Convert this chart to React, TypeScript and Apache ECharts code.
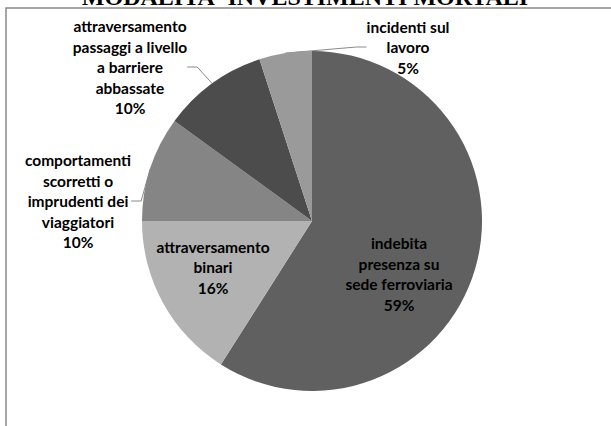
import React, { useEffect, useRef } from "react";
import * as echarts from "echarts";

const categories = [
  "indebita\npresenza su\nsede ferroviaria",
  "attraversamento\nbinari",
  "comportamenti\nscorretti o\nimprudenti dei\nviaggiatori",
  "attraversamento\npassaggi a livello\na barriere\nabbassate",
  "incidenti sul\nlavoro",
];
const values = [59, 16, 10, 10, 5];
const colors = ["#606060", "#b2b2b2", "#858585", "#4c4c4c", "#9a9a9a"];
const titleText = "MODALITA' INVESTIMENTI MORTALI";

// label block centres (layout only)
const labelPos: [number, number][] = [
  [399, 274],
  [213, 267],
  [78, 201],
  [130, 67],
  [408, 47],
];

export default function App() {
  const ref = useRef<HTMLDivElement>(null);
  useEffect(() => {
    if (!ref.current) return;
    const chart = echarts.init(ref.current, null, { renderer: "svg" });
    chart.setOption({
      animation: false,
      backgroundColor: "#ffffff",
      graphic: [
        {
          type: "rect",
          shape: { x: 6, y: 8, width: 640, height: 460 },
          style: { fill: "none", stroke: "#8a8a8a", lineWidth: 1.5 },
          z: 0,
        },
        {
          type: "text",
          x: 305,
          y: 9,
          style: {
            text: titleText,
            font: "bold 24px 'Liberation Serif', 'DejaVu Serif', serif",
            fill: "#000",
            align: "center",
            verticalAlign: "bottom",
          },
          z: 10,
        },
      ],
      series: [
        {
          type: "pie",
          center: [312, 221],
          radius: 170,
          startAngle: 90,
          clockwise: true,
          avoidLabelOverlap: false,
          itemStyle: { borderWidth: 0 },
          label: {
            show: true,
            position: "outside",
            formatter: (p: any) => `${p.name}\n${Math.round(p.percent)}%`,
            fontFamily: "Lato, 'Open Sans', sans-serif",
            fontWeight: "bold",
            fontSize: 15.5,
            lineHeight: 20.5,
            color: "#000",
            align: "center",
          },
          labelLine: {
            show: true,
            lineStyle: { color: "#8a8a8a", width: 1 },
            length: 10,
            length2: 10,
          },
          labelLayout: (params: any) => {
            const pos = labelPos[params.dataIndex];
            return {
              x: pos[0],
              y: pos[1],
              align: "center",
              verticalAlign: "middle",
            };
          },
          data: categories.map((name, i) => ({
            name,
            value: values[i],
            itemStyle: { color: colors[i] },
            labelLine: { show: i >= 2 },
          })),
        },
      ],
    });
    return () => chart.dispose();
  }, []);
  return (
    <div
      ref={ref}
      style={{ position: "fixed", left: 0, top: 0, width: 611, height: 426 }}
    />
  );
}
